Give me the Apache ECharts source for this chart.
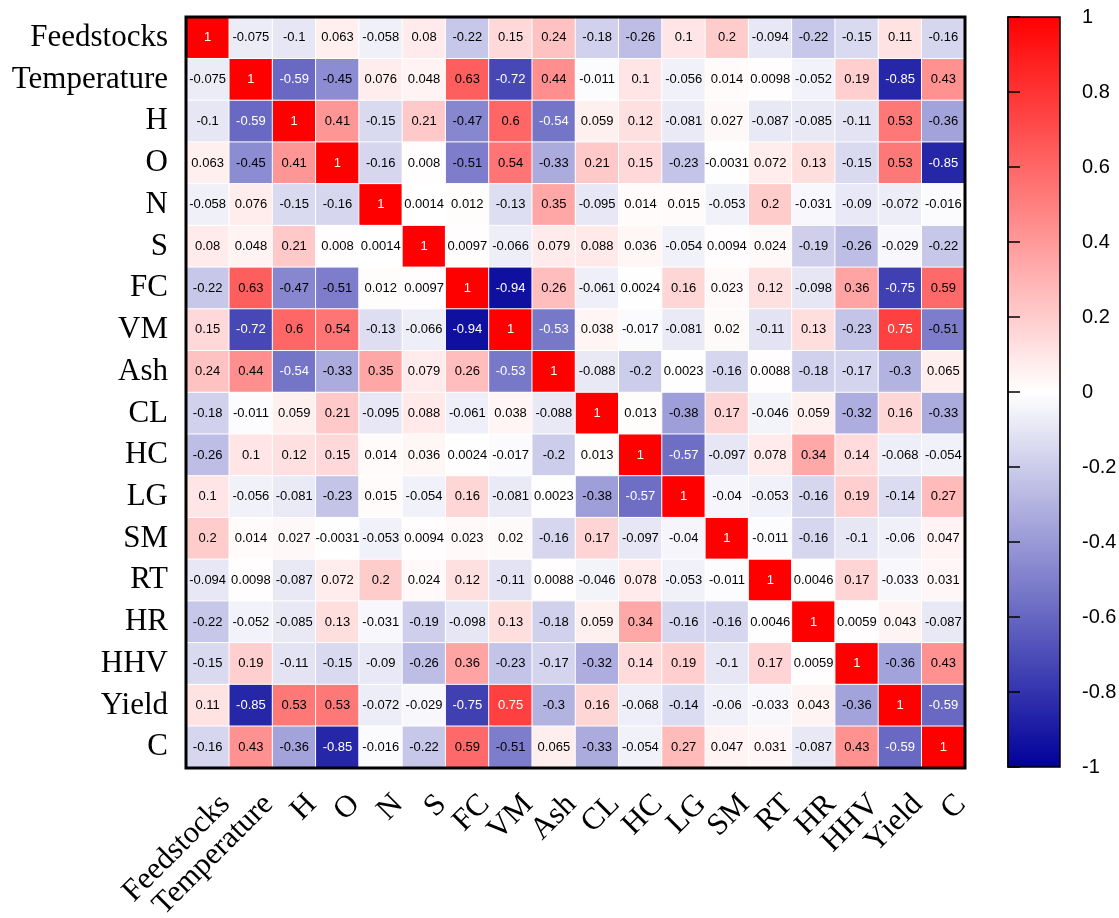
<!DOCTYPE html>
<html><head><meta charset="utf-8">
<script src="https://cdn.jsdelivr.net/npm/echarts@6/dist/echarts.min.js"></script>
<style>html,body{margin:0;padding:0;background:#fff}#c{width:1119px;height:918px}</style>
</head><body><div id="c"></div>
<script>
const labels = ['Feedstocks','Temperature','H','O','N','S','FC','VM','Ash','CL','HC','LG','SM','RT','HR','HHV','Yield','C'];

const rowFeedstocks = [1,-0.075,-0.1,0.063,-0.058,0.08,-0.22,0.15,0.24,-0.18,-0.26,0.1,0.2,-0.094,-0.22,-0.15,0.11,-0.16];
const rowTemperature = [-0.075,1,-0.59,-0.45,0.076,0.048,0.63,-0.72,0.44,-0.011,0.1,-0.056,0.014,0.0098,-0.052,0.19,-0.85,0.43];
const rowH = [-0.1,-0.59,1,0.41,-0.15,0.21,-0.47,0.6,-0.54,0.059,0.12,-0.081,0.027,-0.087,-0.085,-0.11,0.53,-0.36];
const rowO = [0.063,-0.45,0.41,1,-0.16,0.008,-0.51,0.54,-0.33,0.21,0.15,-0.23,-0.0031,0.072,0.13,-0.15,0.53,-0.85];
const rowN = [-0.058,0.076,-0.15,-0.16,1,0.0014,0.012,-0.13,0.35,-0.095,0.014,0.015,-0.053,0.2,-0.031,-0.09,-0.072,-0.016];
const rowS = [0.08,0.048,0.21,0.008,0.0014,1,0.0097,-0.066,0.079,0.088,0.036,-0.054,0.0094,0.024,-0.19,-0.26,-0.029,-0.22];
const rowFC = [-0.22,0.63,-0.47,-0.51,0.012,0.0097,1,-0.94,0.26,-0.061,0.0024,0.16,0.023,0.12,-0.098,0.36,-0.75,0.59];
const rowVM = [0.15,-0.72,0.6,0.54,-0.13,-0.066,-0.94,1,-0.53,0.038,-0.017,-0.081,0.02,-0.11,0.13,-0.23,0.75,-0.51];
const rowAsh = [0.24,0.44,-0.54,-0.33,0.35,0.079,0.26,-0.53,1,-0.088,-0.2,0.0023,-0.16,0.0088,-0.18,-0.17,-0.3,0.065];
const rowCL = [-0.18,-0.011,0.059,0.21,-0.095,0.088,-0.061,0.038,-0.088,1,0.013,-0.38,0.17,-0.046,0.059,-0.32,0.16,-0.33];
const rowHC = [-0.26,0.1,0.12,0.15,0.014,0.036,0.0024,-0.017,-0.2,0.013,1,-0.57,-0.097,0.078,0.34,0.14,-0.068,-0.054];
const rowLG = [0.1,-0.056,-0.081,-0.23,0.015,-0.054,0.16,-0.081,0.0023,-0.38,-0.57,1,-0.04,-0.053,-0.16,0.19,-0.14,0.27];
const rowSM = [0.2,0.014,0.027,-0.0031,-0.053,0.0094,0.023,0.02,-0.16,0.17,-0.097,-0.04,1,-0.011,-0.16,-0.1,-0.06,0.047];
const rowRT = [-0.094,0.0098,-0.087,0.072,0.2,0.024,0.12,-0.11,0.0088,-0.046,0.078,-0.053,-0.011,1,0.0046,0.17,-0.033,0.031];
const rowHR = [-0.22,-0.052,-0.085,0.13,-0.031,-0.19,-0.098,0.13,-0.18,0.059,0.34,-0.16,-0.16,0.0046,1,0.0059,0.043,-0.087];
const rowHHV = [-0.15,0.19,-0.11,-0.15,-0.09,-0.26,0.36,-0.23,-0.17,-0.32,0.14,0.19,-0.1,0.17,0.0059,1,-0.36,0.43];
const rowYield = [0.11,-0.85,0.53,0.53,-0.072,-0.029,-0.75,0.75,-0.3,0.16,-0.068,-0.14,-0.06,-0.033,0.043,-0.36,1,-0.59];
const rowC = [-0.16,0.43,-0.36,-0.85,-0.016,-0.22,0.59,-0.51,0.065,-0.33,-0.054,0.27,0.047,0.031,-0.087,0.43,-0.59,1];

const matrix = [rowFeedstocks,rowTemperature,rowH,rowO,rowN,rowS,rowFC,rowVM,rowAsh,rowCL,rowHC,rowLG,rowSM,rowRT,rowHR,rowHHV,rowYield,rowC];
const colorbarTicks = [-1,-0.8,-0.6,-0.4,-0.2,0,0.2,0.4,0.6,0.8,1];

const BLUE = '#00009a', WHITE = '#ffffff', RED = '#ff0000';
const data = [];
matrix.forEach((row, y) => row.forEach((v, x) => {
  const light = (v > 0.7 || v < -0.52);
  data.push({ value: [x, y, v], label: { color: light ? '#ffffff' : '#000000' } });
}));

const G = { left: 186, top: 17, width: 779, height: 751 };
const CB = { left: 1008, top: 17, width: 52, height: 750 };

const chart = echarts.init(document.getElementById('c'), null, { renderer: 'canvas' });
chart.setOption({
  animation: false,
  backgroundColor: '#ffffff',
  grid: [
    { left: G.left, top: G.top, width: G.width, height: G.height, outerBoundsMode: 'none', containLabel: false },
    { left: CB.left, top: CB.top, width: CB.width, height: CB.height, outerBoundsMode: 'none', containLabel: false }
  ],
  xAxis: [
    { type: 'category', gridIndex: 0, data: labels, position: 'bottom',
      axisLine: { show: false }, axisTick: { show: false }, splitLine: { show: false },
      axisLabel: { interval: 0, rotate: 45, fontSize: 31, color: '#000', fontFamily: "'Times New Roman','Liberation Serif',serif",
        margin: 14, verticalAlign: 'top', lineHeight: 50 } },
    { type: 'value', gridIndex: 1, min: 0, max: 1, show: false }
  ],
  yAxis: [
    { type: 'category', gridIndex: 0, data: labels, inverse: true,
      axisLine: { show: false }, axisTick: { show: false }, splitLine: { show: false },
      axisLabel: { interval: 0, fontSize: 31, color: '#000', fontFamily: "'Times New Roman','Liberation Serif',serif", margin: 18 } },
    { type: 'value', gridIndex: 1, min: colorbarTicks[0], max: colorbarTicks[colorbarTicks.length-1], interval: 0.2, position: 'right',
      axisLine: { show: true, lineStyle: { color: '#000', width: 1.5 } },
      axisTick: { show: true, length: 12, lineStyle: { color: '#000', width: 1.5 } },
      splitLine: { show: false },
      axisLabel: { fontSize: 20, color: '#000', fontFamily: "Arial,'Liberation Sans',sans-serif", margin: 22 } }
  ],
  visualMap: {
    show: false, min: -1, max: 1, seriesIndex: 0, dimension: 2,
    inRange: { color: [BLUE, WHITE, RED] }
  },
  series: [{
    type: 'heatmap', xAxisIndex: 0, yAxisIndex: 0, data: data,
    itemStyle: { borderColor: '#ffffff', borderWidth: 1 },
    label: { show: true, fontSize: 13, fontFamily: "Arial,'Liberation Sans',sans-serif",
      formatter: p => String(p.value[2]) },
    emphasis: { disabled: true }
  }],
  graphic: [
    { type: 'rect', z: 100, shape: { x: G.left, y: G.top, width: G.width, height: G.height },
      style: { fill: 'none', stroke: '#000', lineWidth: 3 } },
    { type: 'rect', z: -1, shape: { x: CB.left, y: CB.top, width: CB.width, height: CB.height },
      style: { fill: { type: 'linear', x: 0, y: 0, x2: 0, y2: 1, colorStops: [
        { offset: 0, color: RED }, { offset: 0.5, color: WHITE }, { offset: 1, color: BLUE } ] },
        stroke: '#000', lineWidth: 1.5 } }
  ]
});
</script></body></html>
